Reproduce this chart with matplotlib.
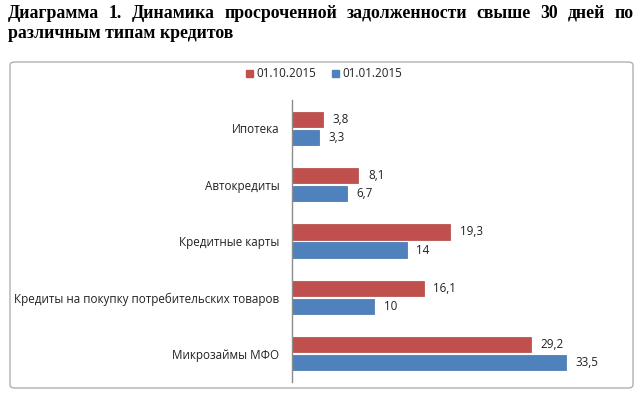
import matplotlib
matplotlib.use("Agg")
import matplotlib.pyplot as plt
from matplotlib.patches import FancyBboxPatch, Rectangle

# данные
categories = ['Ипотека', 'Автокредиты', 'Кредитные карты',
              'Кредиты на покупку потребительских товаров', 'Микрозаймы МФО']
oct_2015 = [3.8, 8.1, 19.3, 16.1, 29.2]
jan_2015 = [3.3, 6.7, 14, 10, 33.5]
series_labels = ['01.10.2015', '01.01.2015']
red = '#C0504D'
blue = '#4F81BD'

title_line1 = 'Диаграмма 1. Динамика просроченной задолженности свыше 30 дней по'
title_line2 = 'различным типам кредитов'

W, H = 640, 396
fig = plt.figure(figsize=(6.4, 3.96), dpi=100)
fig.patch.set_facecolor('white')

def fx(px):
    return px / W

def fy(py):
    return 1 - py / H

# рамка диаграммы
frame = FancyBboxPatch((fx(10), fy(388)), fx(623), (388 - 62) / H,
                       boxstyle='round,pad=0,rounding_size=0.008',
                       transform=fig.transFigure, facecolor='white',
                       edgecolor='#B0B0B0', linewidth=1.0, zorder=-5)
fig.patches.append(frame)

# заголовок (первая строка по ширине)
title_font = dict(family='Liberation Serif', weight='bold', size=12.8)
renderer = fig.canvas.get_renderer()
words = title_line1.split(' ')
texts = [fig.text(0, fy(13), w, va='center', ha='left', **title_font) for w in words]
widths = [t.get_window_extent(renderer).width for t in texts]
x_left, x_right = 8, 634
gap = (x_right - x_left - sum(widths)) / (len(words) - 1)
x = x_left
for t, w in zip(texts, widths):
    t.set_x(fx(x))
    x += w + gap
fig.text(fx(8), fy(33), title_line2, va='center', ha='left', **title_font)

# оси
ax = fig.add_axes([fx(292), fy(382), fx(600 - 292), (382 - 100) / H])
ax.set_zorder(2)
ypos = range(len(categories))
bar_h = 0.27
off = 0.16
ax.barh([y - off for y in ypos], oct_2015, height=bar_h, color=red,
        edgecolor='#B04542', linewidth=0.5, label=series_labels[0])
ax.barh([y + off for y in ypos], jan_2015, height=bar_h, color=blue,
        edgecolor='#4070AA', linewidth=0.5, label=series_labels[1])

label_font = dict(family='Open Sans', size=8.4, color='#222222')
for y, v1, v2 in zip(ypos, oct_2015, jan_2015):
    for yy, v in ((y - off, v1), (y + off, v2)):
        s = ('%g' % v).replace('.', ',')
        ax.annotate(s, (v, yy), xytext=(7, 0), textcoords='offset points',
                    va='center', ha='left', **label_font)

ax.set_ylim(len(categories) - 0.5, -0.5)
ax.set_xlim(0, (600 - 292) / 8.18)
ax.set_yticks(list(ypos))
ax.set_yticklabels(categories, **label_font)
ax.tick_params(axis='y', length=0, pad=9)
ax.set_xticks([])
for side in ('top', 'right', 'bottom'):
    ax.spines[side].set_visible(False)
ax.spines['left'].set_color('#8C8C8C')
ax.spines['left'].set_linewidth(1.0)
ax.patch.set_alpha(0)

# легенда
for px, c, lab in ((246, red, series_labels[0]), (332, blue, series_labels[1])):
    fig.patches.append(Rectangle((fx(px), fy(77)), fx(7), 7 / H,
                                 transform=fig.transFigure, color=c))
    fig.text(fx(px + 10), fy(73.5), lab, va='center', ha='left', **label_font)

fig.savefig('out.png', dpi=100)
